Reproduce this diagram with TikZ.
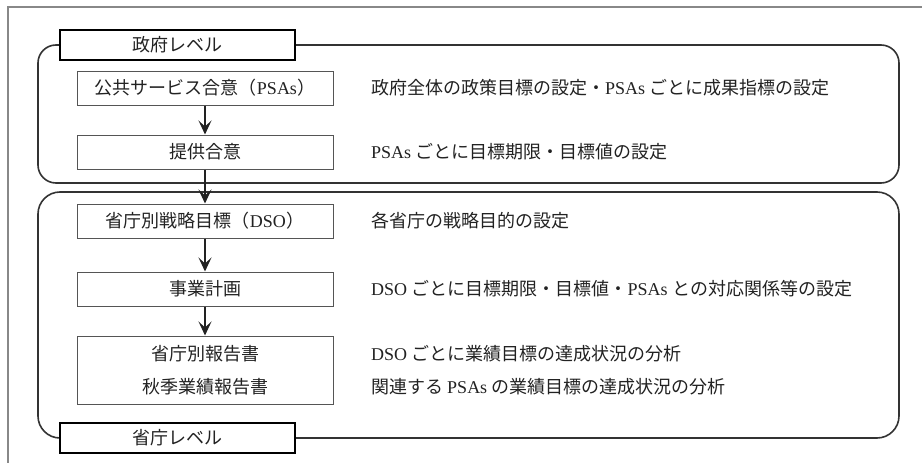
\documentclass[tikz,border=0pt]{standalone}
\usepackage{fontspec}
\setmainfont{Liberation Serif}
\newfontfamily\jpfont{Noto Sans CJK JP}
\newcommand{\jpt}[1]{{\jpfont #1}}
\usetikzlibrary{arrows.meta}
\definecolor{ink}{HTML}{222222}
\definecolor{boxline}{HTML}{555555}
\definecolor{roundline}{HTML}{333333}
\definecolor{frameline}{HTML}{888888}
\tikzset{
  stepbox/.style={draw=boxline, line width=1pt, fill=white, minimum width=256pt, minimum height=34pt, inner sep=0pt, text=ink, align=center},
  levelbox/.style={draw=black, line width=2pt, fill=white, minimum width=235pt, minimum height=30pt, inner sep=0pt, text=ink},
  desc/.style={anchor=west, inner sep=0pt, text=ink},
  roundbox/.style={draw=roundline, line width=1.6pt},
  flow/.style={draw=ink, line width=1.1pt, -{Stealth[length=14pt,width=13pt,inset=6pt]}}
}
\begin{document}
\begin{tikzpicture}[x=1pt,y=-1pt, font=\fontsize{18}{22}\selectfont]
\useasboundingbox (0,0) rectangle (922,463);
% outer frame (cropped)
\draw[frameline, line width=1.2pt] (8,463) -- (8,7) -- (922,7);

% level labels (placed first for names)
\path (177.5,45) node[levelbox] (gl) {\phantom{x}};
\path (177.5,438) node[levelbox] (ml) {\phantom{x}};

% rounded group boxes
\draw[roundbox, rounded corners=18pt] (gl.west) -- (38,45) -- (38,183) -- (899,183) -- (899,45) -- (gl.east);
\draw[roundbox, rounded corners=22pt] (ml.west) -- (38,438) -- (38,192) -- (899,192) -- (899,438) -- (ml.east);

% labels drawn over the lines
\node[levelbox] at (gl) {\jpt{政府レベル}};
\node[levelbox] at (ml) {\jpt{省庁レベル}};

% step boxes
\node[stepbox] (a) at (205,88) {\jpt{公共サービス合意（}PSAs\jpt{）}};
\node[stepbox] (b) at (205,152) {\jpt{提供合意}};
\node[stepbox] (c) at (205,221) {\jpt{省庁別戦略目標（}DSO\jpt{）}};
\node[stepbox] (d) at (205,289) {\jpt{事業計画}};
\node[stepbox, minimum height=68pt] (e) at (205,370) {\jpt{省庁別報告書}\\[11pt]\jpt{秋季業績報告書}};

% arrows
\draw[flow] (a.south) -- (b.north);
\draw[flow] (b.south) -- (c.north);
\draw[flow] (c.south) -- (d.north);
\draw[flow] (d.south) -- (e.north);

% descriptions
\node[desc] (ta) at (371,88) {\jpt{政府全体の政策目標の設定・}PSAs \jpt{ごとに成果指標の設定}};
\node[desc] (tb) at (371,152) {PSAs \jpt{ごとに目標期限・目標値の設定}};
\node[desc] (tc) at (371,221) {\jpt{各省庁の戦略目的の設定}};
\node[desc] (td) at (371,289) {DSO \jpt{ごとに目標期限・目標値・}PSAs \jpt{との対応関係等の設定}};
\node[desc] (te1) at (371,354) {DSO \jpt{ごとに業績目標の達成状況の分析}};
\node[desc] (te2) at (371,387) {\jpt{関連する }PSAs \jpt{の業績目標の達成状況の分析}};
\end{tikzpicture}
\end{document}
